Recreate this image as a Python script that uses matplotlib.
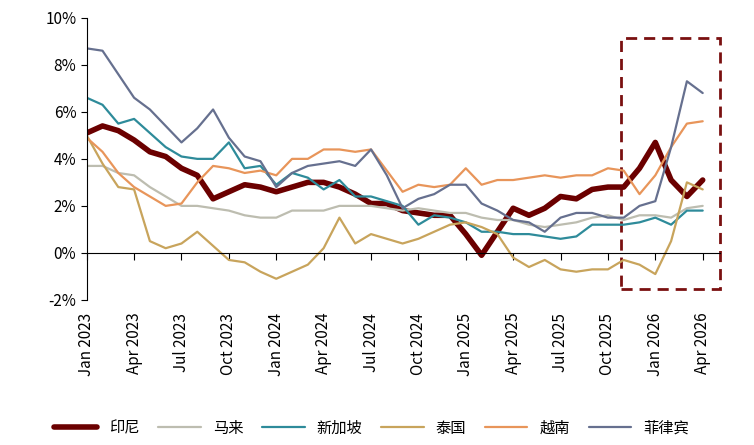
import matplotlib.pyplot as plt
from matplotlib.patches import Rectangle
from matplotlib.ticker import FuncFormatter

plt.rcParams['font.family'] = ['Noto Sans CJK SC', 'DejaVu Sans']

months = ["Jan", "Feb", "Mar", "Apr", "May", "Jun", "Jul", "Aug", "Sep", "Oct", "Nov", "Dec"]
dates = [f"{months[i % 12]} {2023 + i // 12}" for i in range(40)]

indonesia = [5.1, 5.4, 5.2, 4.8, 4.3, 4.1, 3.6, 3.3, 2.3, 2.6, 2.9, 2.8,
             2.6, 2.8, 3.0, 3.0, 2.8, 2.5, 2.1, 2.1, 1.8, 1.7, 1.6, 1.6,
             0.8, -0.1, 0.9, 1.9, 1.6, 1.9, 2.4, 2.3, 2.7, 2.8, 2.8, 3.6,
             4.7, 3.1, 2.4, 3.1]
malaysia = [3.7, 3.7, 3.4, 3.3, 2.8, 2.4, 2.0, 2.0, 1.9, 1.8, 1.6, 1.5,
            1.5, 1.8, 1.8, 1.8, 2.0, 2.0, 2.0, 1.9, 1.8, 1.9, 1.8, 1.7,
            1.7, 1.5, 1.4, 1.4, 1.2, 1.1, 1.2, 1.3, 1.5, 1.6, 1.4, 1.6,
            1.6, 1.5, 1.9, 2.0]
singapore = [6.6, 6.3, 5.5, 5.7, 5.1, 4.5, 4.1, 4.0, 4.0, 4.7, 3.6, 3.7,
             2.9, 3.4, 3.2, 2.7, 3.1, 2.4, 2.4, 2.2, 2.0, 1.2, 1.6, 1.5,
             1.3, 0.9, 0.9, 0.8, 0.8, 0.7, 0.6, 0.7, 1.2, 1.2, 1.2, 1.3,
             1.5, 1.2, 1.8, 1.8]
thailand = [5.0, 3.8, 2.8, 2.7, 0.5, 0.2, 0.4, 0.9, 0.3, -0.3, -0.4, -0.8,
            -1.1, -0.8, -0.5, 0.2, 1.5, 0.4, 0.8, 0.6, 0.4, 0.6, 0.9, 1.2,
            1.3, 1.1, 0.8, -0.2, -0.6, -0.3, -0.7, -0.8, -0.7, -0.7, -0.3, -0.5,
            -0.9, 0.5, 3.0, 2.7]
vietnam = [4.9, 4.3, 3.4, 2.8, 2.4, 2.0, 2.1, 3.0, 3.7, 3.6, 3.4, 3.5,
           3.3, 4.0, 4.0, 4.4, 4.4, 4.3, 4.4, 3.5, 2.6, 2.9, 2.8, 2.9,
           3.6, 2.9, 3.1, 3.1, 3.2, 3.3, 3.2, 3.3, 3.3, 3.6, 3.5, 2.5,
           3.3, 4.5, 5.5, 5.6]
philippines = [8.7, 8.6, 7.6, 6.6, 6.1, 5.4, 4.7, 5.3, 6.1, 4.9, 4.1, 3.9,
               2.8, 3.4, 3.7, 3.8, 3.9, 3.7, 4.4, 3.3, 1.9, 2.3, 2.5, 2.9,
               2.9, 2.1, 1.8, 1.4, 1.3, 0.9, 1.5, 1.7, 1.7, 1.5, 1.5, 2.0,
               2.2, 4.5, 7.3, 6.8]

series = [
    ("印尼", indonesia, "#6b0000", 4.0),
    ("马来", malaysia, "#bdbdb0", 1.6),
    ("新加坡", singapore, "#2e8b9a", 1.6),
    ("泰国", thailand, "#c8a45c", 1.6),
    ("越南", vietnam, "#e8955a", 1.6),
    ("菲律宾", philippines, "#66708f", 1.6),
]

fig = plt.figure(figsize=(7.54, 4.45), dpi=100)
ax = fig.add_axes([0.115, 0.326, 0.84, 0.634])
x = list(range(len(dates)))
for name, vals, color, lw in series:
    ax.plot(x, vals, color=color, lw=lw, label=name, solid_capstyle="round",
            solid_joinstyle="round")

ax.set_xlim(0, 40.1)
ax.set_ylim(-2, 10)
ax.set_yticks(range(-2, 11, 2))
ax.yaxis.set_major_formatter(FuncFormatter(lambda v, p: f"{v:.0f}%"))
ax.set_xticks(x[::3])
ax.set_xticklabels(dates[::3])
ax.spines["bottom"].set_position(("data", 0))
ax.spines["top"].set_visible(False)
ax.spines["right"].set_visible(False)
ax.tick_params(axis="x", direction="out", length=5, pad=38, labelsize=11,
               labelrotation=90)
ax.tick_params(axis="y", direction="out", length=4, labelsize=11)
for lab in ax.get_xticklabels():
    lab.set_va("top")
    lab.set_ha("center")

ax.add_patch(Rectangle((33.8, -1.55), 6.3, 10.7, fill=False, ec="#7a1010",
                       lw=2, ls=(0, (4, 2.5)), clip_on=False))

ax.legend(loc="center", bbox_to_anchor=(0.45, -0.455), ncol=6, frameon=False,
          fontsize=11, handlelength=2.8, columnspacing=1.2)
fig.savefig("out.png", dpi=100)
